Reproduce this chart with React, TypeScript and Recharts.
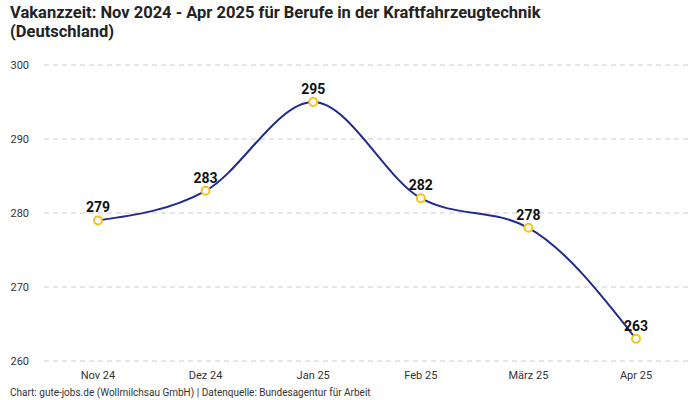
import React from 'react';
import { LineChart, Line, XAxis, YAxis, CartesianGrid, LabelList } from 'recharts';

const months = ['Nov 24', 'Dez 24', 'Jan 25', 'Feb 25', 'März 25', 'Apr 25'];
const vacancyDays = [279, 283, 295, 282, 278, 263];
const yTicks = [260, 270, 280, 290, 300];

const data = months.map((m, i) => ({ month: m, days: vacancyDays[i] }));

const font = 'Roboto, "Noto Sans", sans-serif';

const App = () => {
  return (
    <div style={{ position: 'absolute', left: 0, top: 0, width: 700, height: 400, background: '#fff', fontFamily: font }}>
      <div style={{ position: 'absolute', left: 10, top: 3, width: 570, fontSize: 16.5, fontWeight: 700, lineHeight: '19px', color: '#222' }}>
        Vakanzzeit: Nov 2024 - Apr 2025 für Berufe in der Kraftfahrzeugtechnik (Deutschland)
      </div>
      <LineChart
        width={700}
        height={400}
        data={data}
        margin={{ top: 65, right: 10, left: 8, bottom: 9 }}
        style={{ position: 'absolute', left: 0, top: 0 }}
      >
        <CartesianGrid vertical={false} stroke="#cccccc" strokeDasharray="5 4" />
        <XAxis
          dataKey="month"
          axisLine={false}
          tickLine={false}
          height={30}
          padding={{ left: 54, right: 54 }}
          tick={{ fontSize: 11, fill: '#333', fontFamily: font }}
          tickMargin={4}
        />
        <YAxis
          domain={[260, 300]}
          ticks={yTicks}
          axisLine={false}
          tickLine={false}
          width={36}
          tickMargin={9}
          tick={{ fontSize: 11, fill: '#333', fontFamily: font }}
        />
        <Line
          type="monotone"
          dataKey="days"
          stroke="#1f2a8c"
          strokeWidth={2}
          dot={{ r: 4, fill: '#fff', stroke: '#f7c21b', strokeWidth: 2 }}
          isAnimationActive={false}
        >
          <LabelList dataKey="days" position="top" offset={8} style={{ fontSize: 14, fontWeight: 700, fill: '#111', fontFamily: font }} />
        </Line>
      </LineChart>
      <div style={{ position: 'absolute', left: 10, top: 387, fontSize: 10, color: '#333' }}>
        Chart: gute-jobs.de (Wollmilchsau GmbH) | Datenquelle: Bundesagentur für Arbeit
      </div>
    </div>
  );
};

export default App;
